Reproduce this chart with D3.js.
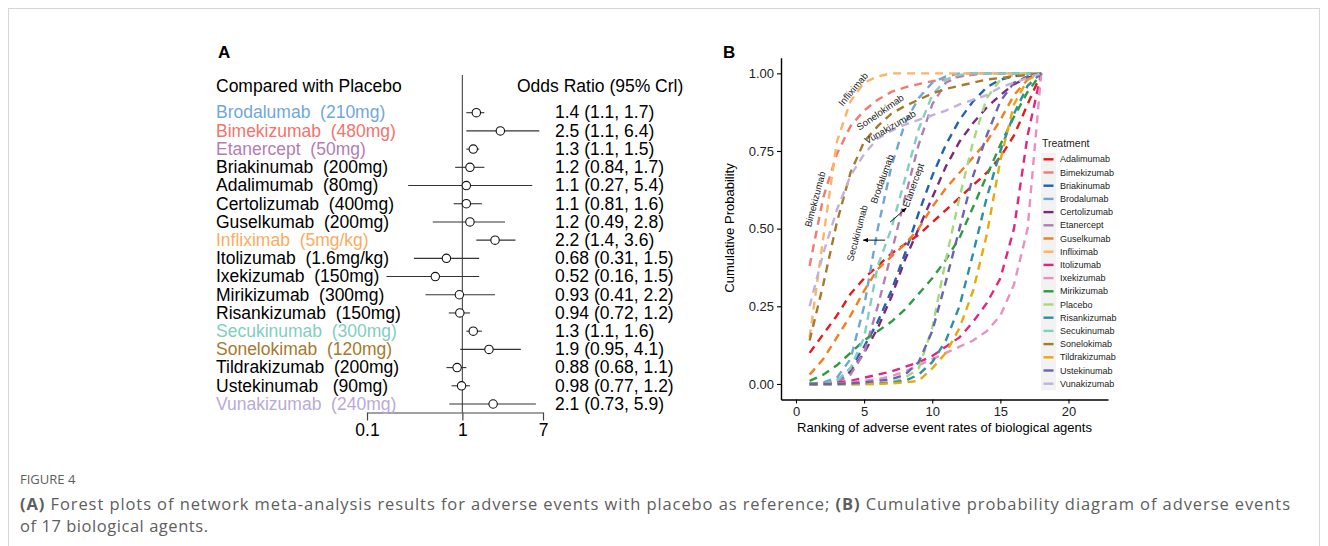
<!DOCTYPE html>
<html><head><meta charset="utf-8">
<script src="https://cdn.jsdelivr.net/npm/d3@7"></script>
<style>
body{margin:0;background:#fff;}
svg text{font-family:"Liberation Sans",Arial,sans-serif;}
svg text.cap{font-family:"Open Sans","Noto Sans",sans-serif;}
</style></head><body>
<svg id="c" width="1328" height="546"></svg>
<script>
// ---------- Panel A data ----------
const forestLabels = ["Brodalumab  (210mg)","Bimekizumab  (480mg)","Etanercept  (50mg)","Briakinumab  (200mg)","Adalimumab  (80mg)","Certolizumab  (400mg)","Guselkumab  (200mg)","Infliximab  (5mg/kg)","Itolizumab  (1.6mg/kg)","Ixekizumab  (150mg)","Mirikizumab  (300mg)","Risankizumab  (150mg)","Secukinumab  (300mg)","Sonelokimab  (120mg)","Tildrakizumab  (200mg)","Ustekinumab   (90mg)","Vunakizumab  (240mg)"];
const forestLabelColors = ["#6fa8dc","#f4736b","#b57cb3","#000","#000","#000","#000","#fbac5f","#000","#000","#000","#000","#7fcfbf","#a57a2e","#000","#000","#b9aad8"];
const forestOR   = [1.4, 2.5, 1.3, 1.2, 1.1, 1.1, 1.2, 2.2, 0.68, 0.52, 0.93, 0.94, 1.3, 1.9, 0.88, 0.98, 2.1];
const forestLow  = [1.1, 1.1, 1.1, 0.84, 0.27, 0.81, 0.49, 1.4, 0.31, 0.16, 0.41, 0.72, 1.1, 0.95, 0.68, 0.77, 0.73];
const forestHigh = [1.7, 6.4, 1.5, 1.7, 5.4, 1.6, 2.8, 3.6, 1.5, 1.5, 2.2, 1.2, 1.6, 4.1, 1.1, 1.2, 5.9];
const forestTicks = [0.1, 1, 7];

// ---------- Panel B data ----------
const ranks = [1,2,3,4,5,6,7,8,9,10,11,12,13,14,15,16,17,18];
const treatments = ["Adalimumab","Bimekizumab","Briakinumab","Brodalumab","Certolizumab","Etanercept","Guselkumab","Infliximab","Itolizumab","Ixekizumab","Mirikizumab","Placebo","Risankizumab","Secukinumab","Sonelokimab","Tildrakizumab","Ustekinumab","Vunakizumab"];
const treatmentColors = ["#e41a1c","#f47a6f","#2061b0","#6ea6d8","#7a2a7d","#b57cb3","#f47d20","#fdb366","#e5247f","#ea8fc0","#2e9b3f","#a6d97f","#2c8fa6","#7fd0c0","#a57a2e","#e8a90b","#6a63b3","#c3b0dc"];
const adalimumab   = [0.10,0.16,0.22,0.29,0.34,0.38,0.42,0.45,0.48,0.52,0.56,0.60,0.64,0.68,0.73,0.80,0.90,1.00];
const bimekizumab  = [0.38,0.60,0.74,0.83,0.88,0.915,0.94,0.955,0.965,0.975,0.98,0.99,0.995,1,1,1,1,1];
const briakinumab  = [0,0,0.01,0.05,0.12,0.20,0.30,0.42,0.55,0.67,0.77,0.85,0.91,0.955,0.98,0.99,1,1];
const brodalumab   = [0,0.005,0.02,0.08,0.25,0.50,0.70,0.84,0.92,0.97,0.99,1,1,1,1,1,1,1];
const certolizumab = [0,0,0.005,0.04,0.10,0.18,0.28,0.40,0.50,0.60,0.70,0.78,0.84,0.89,0.93,0.965,0.985,1];
const etanercept   = [0,0,0.005,0.03,0.10,0.25,0.42,0.60,0.77,0.90,0.97,0.99,1,1,1,1,1,1];
const guselkumab   = [0.03,0.08,0.15,0.22,0.30,0.37,0.41,0.45,0.50,0.57,0.63,0.68,0.73,0.78,0.85,0.93,0.98,1];
const infliximab   = [0.15,0.47,0.78,0.91,0.97,0.99,1,1,1,1,1,1,1,1,1,1,1,1];
const itolizumab   = [0,0,0.005,0.01,0.02,0.03,0.04,0.055,0.07,0.09,0.12,0.15,0.20,0.26,0.34,0.50,0.80,1];
const ixekizumab   = [0,0,0,0.005,0.01,0.015,0.025,0.04,0.06,0.08,0.10,0.12,0.14,0.17,0.22,0.32,0.50,1];
const mirikizumab  = [0.01,0.03,0.06,0.10,0.14,0.17,0.20,0.24,0.29,0.34,0.40,0.47,0.57,0.67,0.77,0.86,0.94,1];
const placebo      = [0,0,0,0,0,0,0.005,0.02,0.05,0.18,0.40,0.60,0.78,0.92,0.98,0.995,1,1];
const risankizumab = [0,0,0,0,0,0.002,0.005,0.01,0.03,0.07,0.14,0.25,0.42,0.60,0.75,0.87,0.96,1];
const secukinumab  = [0,0,0.01,0.05,0.15,0.38,0.50,0.66,0.82,0.93,0.98,0.995,1,1,1,1,1,1];
const sonelokimab  = [0.14,0.32,0.52,0.68,0.78,0.83,0.87,0.895,0.915,0.935,0.95,0.96,0.97,0.98,0.985,0.99,0.995,1];
const tildrakizumab= [0,0,0,0,0,0,0.002,0.005,0.01,0.05,0.10,0.18,0.30,0.48,0.72,0.90,0.98,1];
const ustekinumab  = [0,0,0,0.002,0.005,0.01,0.015,0.03,0.07,0.17,0.33,0.50,0.67,0.80,0.91,0.97,0.99,1];
const vunakizumab  = [0.25,0.42,0.56,0.67,0.74,0.79,0.815,0.835,0.85,0.865,0.88,0.90,0.915,0.93,0.955,0.97,0.985,1];
const yTicks = [0, 0.25, 0.5, 0.75, 1];
const xTicks = [0, 5, 10, 15, 20];
// annotations (rank, probability, angle)
const annoNames = ["Infliximab","Bimekizumab","Sonelokimab","Vunakizumab","Brodalumab","Etanercept","Secukinumab"];
const annoRank  = [4.19, 1.4, 6.18, 6.91, 6.32, 8.6, 4.49];
const annoProb  = [0.949, 0.595, 0.875, 0.827, 0.66, 0.64, 0.486];
const annoAngle = [-50, -75, -35, -30, -70, -70, -75];
const arrowFrom = [[6.54,0.463],[6.91,0.521]];
const arrowTo   = [[4.93,0.463],[8.09,0.566]];

const seriesValues = [adalimumab,bimekizumab,briakinumab,brodalumab,certolizumab,etanercept,guselkumab,infliximab,itolizumab,ixekizumab,mirikizumab,placebo,risankizumab,secukinumab,sonelokimab,tildrakizumab,ustekinumab,vunakizumab];

const svg = d3.select("#c");
svg.append("rect").attr("x",8.5).attr("y",8.5).attr("width",1311).attr("height",600)
  .attr("fill","none").attr("stroke","#d6d6d6");

// ================= Panel A =================
const FS = 17.5;
const gA = svg.append("g");
const xF = d3.scaleLog().domain([0.1, 7]).range([367, 543]);
const yF = d3.scalePoint().domain(forestLabels).range([112.7, 404]);
gA.append("text").attr("x",218).attr("y",57.5).attr("font-weight","bold").attr("font-size",17).text("A");
gA.append("text").attr("x",216).attr("y",92).attr("font-size",FS).text("Compared with Placebo");
gA.append("text").attr("x",517).attr("y",92).attr("font-size",FS).text("Odds Ratio (95% Crl)");
gA.append("line").attr("x1",xF(1)).attr("x2",xF(1)).attr("y1",75).attr("y2",412.5)
  .attr("stroke","#555").attr("stroke-width",1.2);
const axA = gA.append("g").attr("transform","translate(0,412.5)")
  .call(d3.axisBottom(xF).tickValues(forestTicks).tickFormat(d=>String(d)).tickSize(8).tickSizeOuter(0).tickPadding(3));
axA.attr("font-family",null).attr("font-size",FS);
axA.selectAll("path,line").attr("stroke","#444").attr("stroke-width",1.2);
axA.selectAll("text").attr("fill","#000");

forestLabels.forEach((lab,i)=>{
  const y = yF(lab);
  gA.append("text").attr("x",216).attr("y",y).attr("dy","0.33em").attr("font-size",FS)
    .attr("fill",forestLabelColors[i]).style("white-space","pre").text(lab);
  gA.append("line").attr("x1",xF(forestLow[i])).attr("x2",xF(forestHigh[i])).attr("y1",y).attr("y2",y)
    .attr("stroke","#333").attr("stroke-width",1.1);
  gA.append("circle").attr("cx",xF(forestOR[i])).attr("cy",y).attr("r",4.2)
    .attr("fill","#fff").attr("stroke","#111").attr("stroke-width",1.1);
  gA.append("text").attr("x",555).attr("y",y).attr("dy","0.33em").attr("font-size",FS)
    .text(`${forestOR[i]} (${forestLow[i]}, ${forestHigh[i]})`);
});

// ================= Panel B =================
const gB = svg.append("g");
const xB = d3.scaleLinear().domain([-1.1, 22.9]).range([781, 1108]);
const yB = d3.scaleLinear().domain([-0.05, 1.05]).range([399.5, 57.8]);
gB.append("text").attr("x",723).attr("y",57.5).attr("font-weight","bold").attr("font-size",17).text("B");

const line = d3.line().x((d,i)=>xB(ranks[i])).y(d=>yB(d));
seriesValues.forEach((vals,k)=>{
  gB.append("path").attr("d",line(vals)).attr("fill","none")
    .attr("stroke",treatmentColors[k]).attr("stroke-width",2.4).attr("stroke-dasharray","8,6");
});

const axL = gB.append("g").attr("transform",`translate(${xB.range()[0]},0)`)
  .call(d3.axisLeft(yB).tickValues(yTicks).tickFormat(d3.format(".2f")).tickSize(4).tickSizeOuter(0).tickPadding(3));
const axBt = gB.append("g").attr("transform",`translate(0,${yB.range()[0]})`)
  .call(d3.axisBottom(xB).tickValues(xTicks).tickSize(4).tickSizeOuter(0).tickPadding(3));
[axL,axBt].forEach(a=>{
  a.attr("font-family",null).attr("font-size",13);
  a.selectAll("path").attr("stroke","#000").attr("stroke-width",1.4);
  a.selectAll("line").attr("stroke","#000").attr("stroke-width",1.1);
  a.selectAll("text").attr("fill","#222");
});
gB.append("text").attr("transform","translate(734,228) rotate(-90)").attr("text-anchor","middle")
  .attr("font-size",13).text("Cumulative Probability");
gB.append("text").attr("x",944.5).attr("y",432).attr("text-anchor","middle")
  .attr("font-size",13).text("Ranking of adverse event rates of biological agents");

// annotations
annoNames.forEach((n,i)=>{
  gB.append("text").attr("transform",`translate(${xB(annoRank[i])},${yB(annoProb[i])}) rotate(${annoAngle[i]})`)
    .attr("text-anchor","middle").attr("dy","0.35em").attr("font-size",9.5).attr("fill","#222").text(n);
});
svg.append("defs").append("marker").attr("id","ah").attr("viewBox","0 0 10 10").attr("refX",9).attr("refY",5)
  .attr("markerWidth",6).attr("markerHeight",6).attr("orient","auto")
  .append("path").attr("d","M0,1 L10,5 L0,9 z").attr("fill","#000");
arrowFrom.forEach((f,i)=>{
  gB.append("line").attr("x1",xB(f[0])).attr("y1",yB(f[1])).attr("x2",xB(arrowTo[i][0])).attr("y2",yB(arrowTo[i][1]))
    .attr("stroke","#000").attr("stroke-width",0.9).attr("marker-end","url(#ah)");
});

// legend
const lg = gB.append("g");
lg.append("text").attr("x",1042).attr("y",146.5).attr("font-size",10.5).attr("fill","#222").text("Treatment");
const ly = d3.scalePoint().domain(treatments).range([159.3, 383.7]);
treatments.forEach((t,k)=>{
  const y = ly(t);
  lg.append("rect").attr("x",1041).attr("y",y-6.7).attr("width",15).attr("height",13.4).attr("fill","#f2f2f2");
  lg.append("line").attr("x1",1043.5).attr("x2",1053.5).attr("y1",y).attr("y2",y)
    .attr("stroke",treatmentColors[k]).attr("stroke-width",2.4);
  lg.append("text").attr("x",1060).attr("y",y).attr("dy","0.35em").attr("font-size",9).attr("fill","#222").text(t);
});

// ================= Caption =================
const cap = svg.append("g").attr("fill","#5e5e5e");
cap.append("text").attr("class","cap").attr("x",20).attr("y",484).attr("font-size",13).text("FIGURE 4");
const c1 = cap.append("text").attr("class","cap").attr("x",20).attr("y",510).attr("font-size",16.5).attr("textLength",1270).attr("lengthAdjust","spacing");
c1.append("tspan").attr("font-weight","bold").text("(A)");
c1.append("tspan").text(" Forest plots of network meta-analysis results for adverse events with placebo as reference; ");
c1.append("tspan").attr("font-weight","bold").text("(B)");
c1.append("tspan").text(" Cumulative probability diagram of adverse events");
cap.append("text").attr("class","cap").attr("x",20).attr("y",532).attr("font-size",16.5).attr("textLength",188).attr("lengthAdjust","spacing").text("of 17 biological agents.");
</script>
</body></html>
